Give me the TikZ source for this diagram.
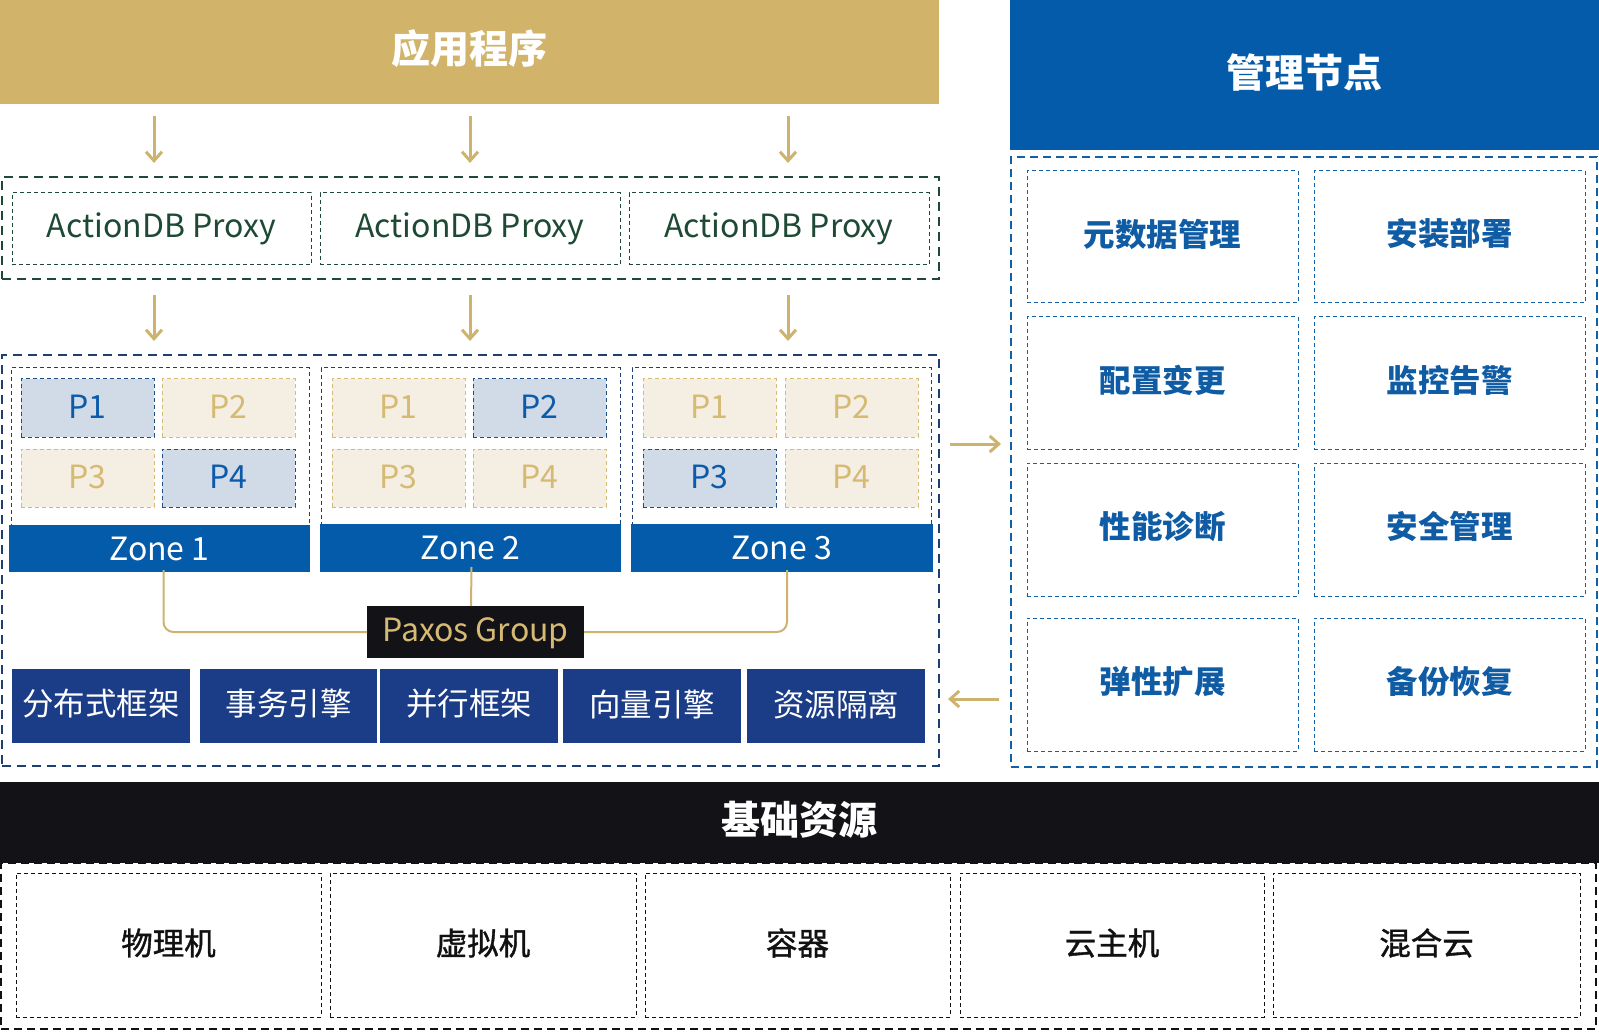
\documentclass[tikz,border=0pt]{standalone}
\usepackage{fontspec}
\setmainfont{Noto Sans CJK SC}
\newfontfamily\cjkmed[FakeBold=1.2]{Noto Sans CJK SC}
\usetikzlibrary{arrows.meta}
\definecolor{gold}{HTML}{D1B46A}
\definecolor{goldarrow}{HTML}{CDB36E}
\definecolor{mblue}{HTML}{045BAA}
\definecolor{navy}{HTML}{1B3C87}
\definecolor{blackbar}{HTML}{131317}
\definecolor{pgreen}{HTML}{1E4A35}
\definecolor{pbfill}{HTML}{D1DBE7}
\definecolor{pbtext}{HTML}{0D5AAA}
\definecolor{pbline}{HTML}{1E4F86}
\definecolor{pgfill}{HTML}{F4EFE2}
\definecolor{pgtext}{HTML}{D6BA74}
\definecolor{mtext}{HTML}{0F5CA5}
\definecolor{zdash}{HTML}{1E3F74}
\definecolor{mdash}{HTML}{1160A8}
\definecolor{darktext}{HTML}{111111}
\newcommand\fTitle{\fontsize{39}{44}\selectfont\bfseries}
\newcommand\fLat{\fontsize{32}{38}\selectfont}
\newcommand\fCjk{\fontsize{31.5}{36}\selectfont}
\newcommand\fMgmt{\fontsize{31.5}{36}\selectfont\bfseries}
\newcommand\fBase{\fontsize{31.5}{36}\selectfont\cjkmed}
\newcommand\upby[2]{\raisebox{#1}[\height][\depth]{#2}}
\tikzset{
  every node/.style={inner sep=0pt, outer sep=0pt, anchor=north west},
  titlebar/.style={text=white, font=\fTitle},
  outerdash/.style={draw, line width=1.5pt, dash pattern=on 9pt off 6pt},
  innerdash/.style={draw, line width=1pt, dash pattern=on 4pt off 3pt},
  proxybox/.style={innerdash, draw=pgreen, text=pgreen, font=\fLat, minimum width=299pt, minimum height=72pt},
  pact/.style={fill=pbfill, draw=pbline, line width=1pt, dash pattern=on 4pt off 3pt, text=pbtext, font=\fLat, minimum width=133pt, minimum height=58pt},
  pina/.style={fill=pgfill, draw=pgtext, line width=1pt, dash pattern=on 4pt off 3pt, text=pgtext, font=\fLat, minimum width=133pt, minimum height=58pt},
  zonebar/.style={fill=mblue, text=white, font=\fLat, minimum height=48pt},
  navybox/.style={fill=navy, text=white, font=\fCjk, minimum height=74pt},
  mbox/.style={innerdash, draw=mdash, text=mtext, font=\fMgmt, minimum width=271pt, minimum height=132pt},
  rbox/.style={innerdash, draw=darktext, text=darktext, font=\fBase, minimum height=144pt},
  garrow/.style={draw=goldarrow, line width=3pt, -{Straight Barb[length=9pt,width=16pt,line width=3pt]}},
  gline/.style={draw=goldarrow, line width=2pt, rounded corners=10pt},
}
\begin{document}
\begin{tikzpicture}[x=1pt,y=-1pt]
\useasboundingbox (0,0) rectangle (1599,1032);
% top bars
\node[fill=gold, titlebar, minimum width=939pt, minimum height=104pt] (app) at (0,0) {\upby{3pt}{应用程序}};
\node[fill=mblue, titlebar, minimum width=589pt, minimum height=150pt] (mgmt) at (1010,0) {\upby{2pt}{管理节点}};
% proxy layer
\node[outerdash, draw=pgreen, minimum width=937pt, minimum height=102pt] (proxyframe) at (2,177) {};
\node[proxybox] (px1) at (12,193) {ActionDB Proxy};
\node[proxybox, minimum width=300pt] (px2) at (320,193) {ActionDB Proxy};
\node[proxybox, minimum width=300pt] (px3) at (629,193) {ActionDB Proxy};
% arrows app -> proxy
\coordinate (a1s) at (154,116); \coordinate (a1e) at (154,163);
\coordinate (a2s) at (470,116); \coordinate (a2e) at (470,163);
\coordinate (a3s) at (788,116); \coordinate (a3e) at (788,163);
\draw[garrow] (a1s) -- (a1e);
\draw[garrow] (a2s) -- (a2e);
\draw[garrow] (a3s) -- (a3e);
% arrows proxy -> zones
\coordinate (b1s) at (154,295); \coordinate (b1e) at (154,341);
\coordinate (b2s) at (470,295); \coordinate (b2e) at (470,341);
\coordinate (b3s) at (788,295); \coordinate (b3e) at (788,341);
\draw[garrow] (b1s) -- (b1e);
\draw[garrow] (b2s) -- (b2e);
\draw[garrow] (b3s) -- (b3e);
% zone layer
\node[outerdash, draw=zdash, minimum width=937pt, minimum height=411pt] (zoneframe) at (2,355) {};
\node[innerdash, draw=zdash, minimum width=298pt, minimum height=165pt] (zi1) at (11,368) {};
\node[innerdash, draw=zdash, minimum width=299pt, minimum height=165pt] (zi2) at (321,368) {};
\node[innerdash, draw=zdash, minimum width=299pt, minimum height=165pt] (zi3) at (632,368) {};
\node[zonebar, minimum width=301pt, minimum height=47pt] (z1) at (9,525) {Zone 1};
\node[zonebar, minimum width=301pt] (z2) at (320,524) {Zone 2};
\node[zonebar, minimum width=302pt] (z3) at (631,524) {Zone 3};
% partitions
\node[pact] (z1p1) at (21,379) {\upby{1pt}{P1}};
\node[pina] (z1p2) at (162,379) {\upby{1pt}{P2}};
\node[pina] (z1p3) at (21,449) {\upby{1pt}{P3}};
\node[pact] (z1p4) at (162,449) {\upby{1pt}{P4}};
\node[pina] (z2p1) at (332,379) {\upby{1pt}{P1}};
\node[pact] (z2p2) at (473,379) {\upby{1pt}{P2}};
\node[pina] (z2p3) at (332,449) {\upby{1pt}{P3}};
\node[pina] (z2p4) at (473,449) {\upby{1pt}{P4}};
\node[pina] (z3p1) at (643,379) {\upby{1pt}{P1}};
\node[pina] (z3p2) at (785,379) {\upby{1pt}{P2}};
\node[pact] (z3p3) at (643,449) {\upby{1pt}{P3}};
\node[pina] (z3p4) at (785,449) {\upby{1pt}{P4}};
% paxos
\node[fill=blackbar, text=pgtext, font=\fLat, minimum width=217pt, minimum height=52pt] (paxos) at (367,606) {\upby{-1pt}{Paxos Group}};
\draw[gline] ([xshift=4pt,yshift=2pt]z1.south) |- (paxos.west);
\draw[gline] ([xshift=5pt,yshift=2pt]z3.south) |- (paxos.east);
\draw[draw=goldarrow, line width=2pt] ([xshift=1pt,yshift=5pt]z2.south) -- ([xshift=-4.5pt]paxos.north);
% engine boxes
\node[navybox, minimum width=178pt] (e1) at (12,669) {\upby{2pt}{分布式框架}};
\node[navybox, minimum width=177pt] (e2) at (200,669) {\upby{2pt}{事务引擎}};
\node[navybox, minimum width=178pt] (e3) at (380,669) {\upby{2pt}{并行框架}};
\node[navybox, minimum width=178pt] (e4) at (563,669) {\upby{2pt}{向量引擎}};
\node[navybox, minimum width=178pt] (e5) at (747,669) {\upby{2pt}{资源隔离}};
% management grid
\node[draw=mdash, line width=2pt, dash pattern=on 8pt off 5pt, minimum width=586pt, minimum height=610pt] (mframe) at (1011,157) {};
\node[mbox] (m1) at (1027,171) {\upby{3pt}{元数据管理}};
\node[mbox] (m2) at (1314,171) {\upby{3pt}{安装部署}};
\node[mbox] (m3) at (1027,317) {\upby{3pt}{配置变更}};
\node[mbox] (m4) at (1314,317) {\upby{3pt}{监控告警}};
\node[mbox, minimum height=133pt] (m5) at (1027,463) {\upby{3pt}{性能诊断}};
\node[mbox, minimum height=133pt] (m6) at (1314,463) {\upby{3pt}{安全管理}};
\node[mbox, minimum height=133pt] (m7) at (1027,618) {\upby{3pt}{弹性扩展}};
\node[mbox, minimum height=133pt] (m8) at (1314,618) {\upby{3pt}{备份恢复}};
% arrows between zone frame and management
\coordinate (r1s) at (950,444); \coordinate (r1e) at (1001,444);
\coordinate (l1s) at (999,699); \coordinate (l1e) at (948,699);
\draw[garrow] (r1s) -- (r1e);
\draw[garrow] (l1s) -- (l1e);
% base resources
\node[draw=darktext, line width=2pt, dash pattern=on 8pt off 5pt, minimum width=1595pt, minimum height=166pt] (bframe) at (1,863) {};
\node[fill=blackbar, titlebar, minimum width=1599pt, minimum height=81pt] (base) at (0,782) {\upby{3pt}{基础资源}};
\node[rbox, minimum width=305pt] (r1) at (16,873) {\upby{2pt}{物理机}};
\node[rbox, minimum width=306pt] (r2) at (330,873) {\upby{2pt}{虚拟机}};
\node[rbox, minimum width=305pt] (r3) at (645,873) {\upby{2pt}{容器}};
\node[rbox, minimum width=304pt] (r4) at (960,873) {\upby{2pt}{云主机}};
\node[rbox, minimum width=307pt] (r5) at (1273,873) {\upby{2pt}{混合云}};
\end{tikzpicture}
\end{document}
